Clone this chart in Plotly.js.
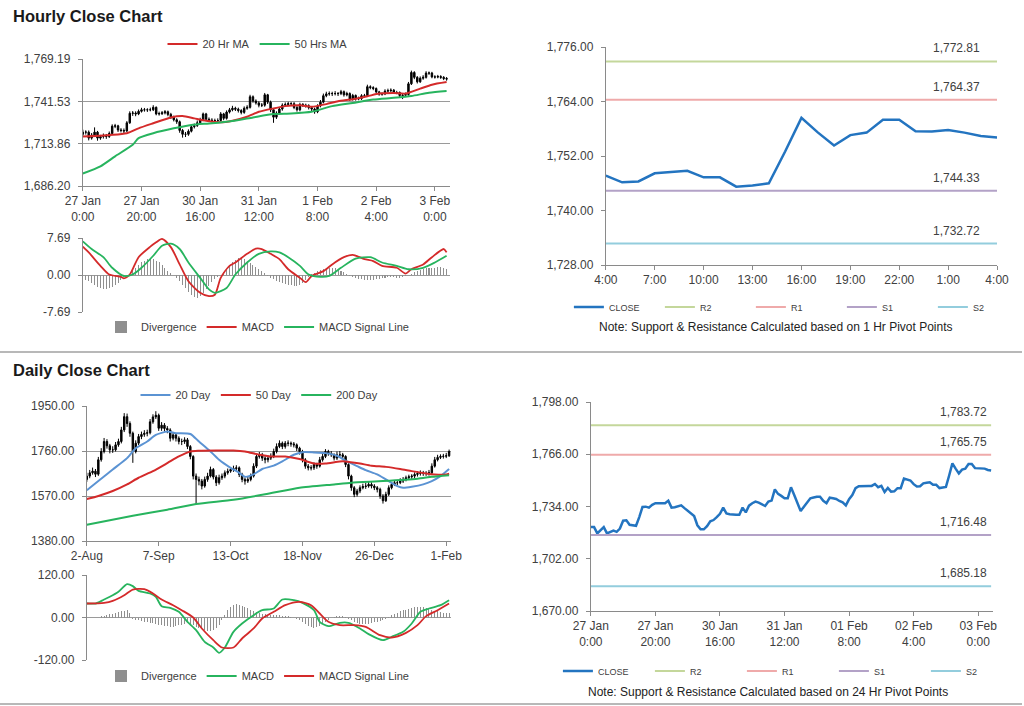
<!DOCTYPE html>
<html><head><meta charset="utf-8">
<script src="https://cdn.plot.ly/plotly-3.0.1.min.js"></script>
<style>html,body{margin:0;padding:0;background:#fff;overflow:hidden}#chart{width:1024px;height:706px}</style>
</head><body><div id="chart"></div>
<script>
// ---------- Hourly (27 Jan 0:00 .. 3 Feb) ----------
const hourTickVals = [0,20,40,60,80,100,120];
const hourTickText = ['27 Jan<br>0:00','27 Jan<br>20:00','30 Jan<br>16:00','31 Jan<br>12:00','1 Feb<br>8:00','2 Feb<br>4:00','3 Feb<br>0:00'];
const hourTickText2 = ['27 Jan<br>0:00','27 Jan<br>20:00','30 Jan<br>16:00','31 Jan<br>12:00','01 Feb<br>8:00','02 Feb<br>4:00','03 Feb<br>0:00'];
const hourPriceTicks = [1686.20,1713.86,1741.53,1769.19];
const hourClose = [1721.4,1721.4,1717.5,1719.5,1721.4,1717.5,1718.5,1719.2,1718.5,1720.5,
1725.3,1725.5,1722.8,1722.5,1722.2,1727.5,1733.7,1733.9,1733.3,1735.0,
1736.0,1736.0,1736.0,1736.0,1737.6,1733.3,1733.5,1734.0,1734.7,1733.0,
1731.2,1729.5,1728.2,1722.5,1720.0,1720.0,1722.0,1724.9,1725.7,1727.5,
1729.5,1733.3,1729.8,1729.3,1729.0,1729.0,1729.0,1733.3,1730.4,1734.5,
1736.0,1737.0,1736.4,1735.5,1734.3,1737.0,1737.6,1744.5,1741.7,1740.5,
1739.0,1739.0,1745.8,1741.0,1736.0,1731.2,1733.9,1736.5,1739.0,1739.5,
1740.0,1740.0,1737.5,1736.0,1739.4,1739.0,1738.6,1737.4,1736.5,1734.7,
1738.5,1741.0,1745.2,1746.4,1746.6,1746.6,1746.6,1746.6,1747.8,1745.8,
1746.6,1742.9,1745.4,1743.1,1743.3,1745.2,1745.2,1751.1,1750.5,1749.9,
1747.7,1746.2,1746.4,1748.2,1748.5,1748.8,1747.3,1747.3,1745.3,1745.5,
1746.0,1753.0,1760.4,1757.2,1754.3,1756.6,1757.2,1760.0,1760.0,1757.5,
1757.4,1757.7,1757.2,1756.4,1756.1];
const hourOpen = [1720.0,1721.4,1721.4,1717.5,1719.5,1721.4,1717.5,1718.5,1719.2,1718.5,
1720.5,1725.3,1725.5,1722.8,1722.5,1722.2,1727.5,1733.7,1733.9,1733.3,
1735.0,1736.0,1736.0,1736.0,1736.0,1737.6,1733.3,1733.5,1734.0,1734.7,
1733.0,1731.2,1729.5,1728.2,1722.5,1720.0,1720.0,1722.0,1724.9,1725.7,
1727.5,1729.5,1733.3,1729.8,1729.3,1729.0,1729.0,1729.0,1733.3,1730.4,
1734.5,1736.0,1737.0,1736.4,1735.5,1734.3,1737.0,1737.6,1744.5,1741.7,
1740.5,1739.0,1739.0,1745.8,1741.0,1736.0,1731.2,1733.9,1736.5,1739.0,
1739.5,1740.0,1740.0,1737.5,1736.0,1739.4,1739.0,1738.6,1737.4,1736.5,
1734.7,1738.5,1741.0,1745.2,1746.4,1746.6,1746.6,1746.6,1746.6,1747.8,
1745.8,1746.6,1742.9,1745.4,1743.1,1743.3,1745.2,1745.2,1751.1,1750.5,
1749.9,1747.7,1746.2,1746.4,1748.2,1748.5,1748.8,1747.3,1747.3,1745.3,
1745.5,1746.0,1753.0,1760.4,1757.2,1754.3,1756.6,1757.2,1760.0,1760.0,
1757.5,1757.4,1757.7,1757.2,1756.4];
const hourHigh = [1723.0,1722.6,1722.5,1720.8,1724.5,1722.2,1719.6,1720.5,1720.2,1721.8,
1726.5,1726.8,1726.2,1724.0,1723.8,1728.6,1735.0,1735.2,1735.0,1736.2,
1737.3,1737.2,1737.0,1737.4,1739.0,1738.2,1734.8,1735.2,1735.8,1735.5,
1734.0,1732.2,1730.5,1729.0,1723.5,1721.5,1723.2,1726.0,1727.0,1729.0,
1730.8,1734.2,1734.0,1731.0,1730.5,1730.2,1730.4,1734.5,1734.0,1735.6,
1737.2,1738.6,1738.0,1737.4,1736.4,1738.2,1739.0,1745.8,1745.4,1742.8,
1741.6,1740.4,1747.0,1746.4,1742.0,1737.0,1735.0,1737.8,1740.2,1740.8,
1741.2,1741.0,1741.0,1738.6,1740.6,1740.4,1740.0,1739.6,1738.4,1737.4,
1739.6,1742.4,1746.6,1747.8,1748.0,1747.8,1748.2,1747.6,1749.0,1748.6,
1747.8,1747.4,1746.4,1746.0,1744.6,1746.2,1746.4,1752.4,1752.0,1751.4,
1750.6,1748.4,1747.4,1749.4,1749.8,1750.0,1749.6,1748.4,1748.0,1746.6,
1747.2,1754.2,1761.6,1761.2,1758.0,1757.8,1758.6,1761.2,1761.0,1760.8,
1758.6,1758.8,1758.6,1758.0,1757.4];
const hourLow = [1718.6,1719.8,1716.0,1716.5,1718.5,1715.8,1716.4,1717.2,1717.0,1717.6,
1719.8,1724.0,1721.5,1721.2,1720.6,1721.5,1726.8,1732.0,1731.8,1732.5,
1734.2,1734.8,1734.6,1735.0,1735.2,1732.4,1732.2,1732.6,1733.0,1731.8,
1730.0,1728.4,1726.8,1721.0,1717.8,1718.2,1719.0,1721.2,1723.8,1724.8,
1726.5,1728.6,1728.8,1728.2,1727.8,1728.0,1727.6,1728.4,1729.2,1729.6,
1733.6,1735.0,1735.2,1734.2,1733.0,1733.4,1736.0,1736.8,1740.6,1739.4,
1737.6,1737.8,1738.0,1739.8,1734.5,1727.5,1730.0,1732.8,1735.4,1738.0,
1738.4,1738.6,1736.4,1734.8,1735.0,1737.8,1737.4,1736.2,1735.2,1733.4,
1733.8,1737.6,1740.2,1744.2,1745.2,1745.0,1745.4,1745.0,1745.6,1744.6,
1744.8,1741.8,1742.0,1742.0,1742.2,1742.4,1744.2,1744.6,1749.4,1748.8,
1746.8,1745.2,1745.2,1745.6,1747.2,1747.6,1746.4,1746.2,1744.0,1743.0,
1744.6,1745.2,1752.2,1756.0,1753.2,1753.6,1755.6,1756.4,1758.8,1756.6,
1756.4,1756.6,1756.2,1755.4,1755.0];
const hourMA20X = [0,15,19,24,30,34,38,42,47,51,56,60,65,69,74,78,83,87,92,97,101,106,110,115,119,124];
const hourMA20 = [1718.5,1720.7,1723.9,1727.2,1731.0,1731.9,1730.4,1728.9,1727.8,1728.9,1731.5,1734.7,1736.9,1738.4,1739.0,1738.0,1739.7,1741.6,1742.9,1744.8,1746.6,1747.0,1746.6,1749.8,1752.4,1754.1];
const hourMA50X = [0,6,11,17,19,24,31,37,44,51,58,65,71,78,85,92,99,106,112,118,124];
const hourMA50 = [1694.4,1699.1,1705.6,1713.1,1717.5,1720.7,1723.9,1726.1,1727.2,1728.7,1731.0,1733.2,1733.6,1734.7,1738.4,1740.5,1742.7,1743.8,1745.0,1747.2,1748.3];
const hourMacdTicks = [-7.69,0,7.69];
const hourMacdTickText = ['-7.69','0.00','7.69'];
const hourMacdX = [0,2,6,9,13,14,16,19,23,25,27,30,33,36,40,43,45,47,50,52,56,59,61,64,67,70,74,76,78,82,85,89,92,96,99,102,107,110,112,116,119,123,124];
const hourMacd = [5.9,4.7,1.9,0.1,-0.4,-0.7,0.1,3.7,5.9,6.8,7.5,5.8,2.2,-1.3,-3.7,-4.4,-4.1,-0.6,1.9,2.6,4.4,5.5,5.4,4.4,3.3,1.2,-0.6,-1.5,-0.2,0.8,2.2,3.7,4.2,3.3,2.9,1.9,1.5,0.3,1.2,2.2,3.7,5.4,4.7];
const hourSigX = [0,3,7,10,14,17,20,24,27,30,33,36,40,43,45,49,52,56,60,64,67,70,74,77,81,84,88,93,98,102,107,111,116,120,124];
const hourSig = [7.0,5.4,3.7,1.5,-0.2,0.1,1.5,4.0,6.1,6.5,5.4,2.6,-0.6,-3.0,-3.7,-2.7,0.1,2.6,4.4,4.9,4.7,3.7,1.9,0.1,-0.4,-0.2,1.5,3.4,3.7,2.6,1.9,1.2,1.5,2.6,4.0];
const hourDiv = [-0.5,-1.0,-1.3,
-1.6,-2.0,-2.4,-2.7,-3.0,-3.0,-2.8,-2.5,-2.0,-1.6,-1.0,-0.5,
-0.2,0.3,
0.8,1.4,2.0,2.6,3.0,3.4,3.6,3.3,3.0,2.6,2.0,1.4,0.8,
0.4,0.0,
-0.6,-1.2,-2.0,-2.8,-3.6,-4.2,-4.6,-4.7,-4.4,-3.8,-3.0,-2.2,-1.5,-0.9,-0.4,0.0,
0.6,1.3,2.0,2.7,3.2,3.5,3.6,3.3,2.9,2.4,2.0,1.6,1.2,0.8,0.4,
-0.3,-0.6,-0.9,-1.2,-1.4,-1.6,-1.8,-2.0,-2.1,-2.2,-2.3,-2.0,-1.6,-1.0,-0.5,
0.2,0.5,0.8,1.0,1.2,1.4,1.5,1.5,1.4,1.2,0.9,0.6,0.3,
-0.2,-0.4,-0.6,-0.8,-0.9,-1.0,-1.0,-1.1,-1.0,-0.9,-0.8,-0.7,-0.6,-0.5,-0.5,-0.4,-0.6,-0.7,-0.5,-0.3,-0.1,
0.3,0.6,0.9,1.1,1.3,1.4,1.5,1.5,1.5,1.6,1.6,1.5,1.2];

// ---------- Last 25 hours pivot chart ----------
const pivHourLabels = ['4:00','7:00','10:00','13:00','16:00','19:00','22:00','1:00','4:00'];
const pivHourTickVals = [0,3,6,9,12,15,18,21,24];
const pivHourTicks = [1728,1740,1752,1764,1776];
const pivHourClose = [1747.7,1746.2,1746.4,1748.2,1748.5,1748.75,1747.3,1747.3,1745.25,1745.5,1746.0,1753.0,1760.4,1757.2,1754.3,1756.6,1757.15,1760.0,1760.0,1757.45,1757.4,1757.7,1757.15,1756.4,1756.1];
const pivHourLevels = {R2:1772.81, R1:1764.37, S1:1744.33, S2:1732.72};
const pivDayTicks = [1670,1702,1734,1766,1798];
const pivDayLevels = {R2:1783.72, R1:1765.75, S1:1716.48, S2:1685.18};

// ---------- Daily ----------
const dayTickVals = [0,25,50,75,100,125];
const dayTickText = ['2-Aug','7-Sep','13-Oct','18-Nov','26-Dec','1-Feb'];
const dayPriceTicks = [1380,1570,1760,1950];
const dayClose = [1654,1668,1675,1662,1723,1758,1800,1782,1765,1765,
1786,1800,1849,1905,1876,1835,1758,1793,1821,1830,
1835,1837,1883,1904,1911,1856,1869,1855,1849,1814,
1828,1814,1800,1800,1807,1779,1737,1654,1640,1633,
1612,1640,1654,1682,1650,1626,1647,1654,1668,1675,
1682,1686,1689,1661,1640,1633,1640,1654,1696,1737,
1744,1730,1723,1730,1737,1758,1779,1793,1779,1793,
1793,1790,1786,1772,1758,1723,1696,1689,1689,1703,
1696,1723,1737,1758,1750,1744,1730,1744,1744,1737,
1703,1654,1605,1577,1591,1605,1610,1612,1619,1612,
1605,1598,1570,1550,1577,1605,1619,1626,1626,1633,
1640,1647,1651,1654,1661,1665,1668,1666,1665,1668,
1696,1723,1733,1737,1738,1740,1758];
const dayOpen = [1640,1654,1668,1675,1662,1723,1758,1800,1782,1765,
1765,1786,1800,1849,1905,1876,1835,1758,1793,1821,
1830,1835,1837,1883,1904,1911,1856,1869,1855,1849,
1814,1828,1814,1800,1800,1807,1779,1737,1654,1640,
1633,1612,1640,1654,1682,1650,1626,1647,1654,1668,
1675,1682,1686,1689,1661,1640,1633,1640,1654,1696,
1737,1744,1730,1723,1730,1737,1758,1779,1793,1779,
1793,1793,1790,1786,1772,1758,1723,1696,1689,1689,
1703,1696,1723,1737,1758,1750,1744,1730,1744,1744,
1737,1703,1654,1605,1577,1591,1605,1610,1612,1619,
1612,1605,1598,1570,1550,1577,1605,1619,1626,1626,
1633,1640,1647,1651,1654,1661,1665,1668,1666,1665,
1668,1696,1723,1733,1737,1738,1740];
const dayHigh = [1668,1680,1690,1684,1735,1772,1815,1810,1790,1780,
1798,1812,1862,1920,1918,1885,1842,1805,1832,1842,
1848,1850,1895,1915,1928,1918,1882,1878,1865,1856,
1840,1835,1822,1812,1818,1815,1785,1742,1665,1652,
1642,1652,1668,1694,1688,1658,1660,1665,1678,1686,
1692,1698,1700,1695,1668,1648,1652,1665,1708,1748,
1756,1752,1738,1742,1750,1770,1792,1805,1800,1802,
1805,1800,1798,1792,1778,1765,1730,1705,1700,1712,
1710,1735,1750,1768,1765,1760,1750,1758,1760,1752,
1742,1708,1660,1612,1600,1615,1622,1625,1630,1628,
1620,1612,1605,1578,1588,1615,1628,1636,1638,1645,
1650,1656,1660,1662,1670,1675,1678,1676,1675,1680,
1708,1735,1744,1746,1748,1752,1766];
const dayLow = [1630,1645,1660,1650,1655,1715,1750,1770,1750,1752,
1758,1778,1792,1840,1862,1820,1710,1750,1785,1810,
1820,1822,1830,1875,1895,1845,1845,1842,1835,1800,
1805,1800,1788,1785,1790,1768,1725,1640,1536,1615,
1598,1605,1630,1648,1640,1612,1618,1638,1645,1660,
1668,1672,1675,1650,1628,1618,1625,1632,1648,1688,
1728,1718,1708,1712,1722,1730,1750,1772,1768,1770,
1780,1778,1775,1760,1745,1712,1685,1678,1678,1680,
1685,1690,1715,1730,1740,1735,1720,1722,1735,1728,
1692,1640,1592,1565,1568,1582,1598,1600,1605,1602,
1595,1585,1558,1538,1545,1570,1598,1612,1615,1620,
1625,1632,1638,1642,1646,1652,1656,1655,1655,1656,
1662,1690,1716,1726,1728,1730,1735];
const day20X = [0,4,9,14,17,21,24,28,31,36,39,43,46,50,53,55,58,61,65,68,72,75,79,83,87,90,94,97,101,104,108,110,113,117,120,123,126];
const day20 = [1594,1633,1682,1730,1772,1800,1828,1842,1835,1832,1800,1758,1723,1689,1668,1651,1661,1684,1698,1716,1744,1755,1754,1751,1740,1719,1696,1679,1661,1640,1612,1605,1609,1619,1633,1654,1684];
const day50X = [0,4,9,14,18,23,28,32,36,39,45,51,55,60,64,69,74,79,83,88,90,95,99,104,109,113,118,121,125,126];
const day50 = [1557,1570,1591,1619,1647,1675,1709,1737,1758,1761,1762,1762,1758,1744,1737,1737,1726,1707,1707,1716,1716,1707,1698,1693,1684,1675,1665,1661,1661,1664];
const day200X = [0,16,28,38,51,62,74,86,92,103,115,120,126];
const day200 = [1449,1487,1512,1536,1554,1577,1605,1619,1626,1633,1643,1651,1658];
const dayMacdTicks = [-120,0,120];
const dayMacdTickText = ['-120.00','0.00','120.00'];
const dayMacdX = [0,3,6,8,11,14,16,18,22,24,26,29,32,35,38,41,44,46,48,51,54,58,61,65,68,72,75,79,81,84,88,91,95,98,103,106,110,113,116,119,123,126];
const dayMacd = [39.5,39.5,50.8,58.4,72.5,94,88.5,75.3,67.8,58.4,32,27.3,16,-12.2,-35.8,-68.7,-84.7,-99.8,-84.7,-40.5,-16.9,6.6,20.7,25.4,50.8,48.9,41.4,20.7,-12.2,-24.5,-15,-15,-31,-47,-64,-54.6,-40.5,-16.9,16,25.4,34.8,49];
const daySigX = [0,6,9,13,16,20,23,26,30,33,37,40,44,47,51,54,58,61,65,69,74,78,81,84,88,93,97,102,106,111,115,118,122,126];
const daySig = [39.5,41.4,47,63,79,80,67.8,50.8,34.8,20.7,0,-31,-64,-84.7,-84.7,-59.3,-31,-2.8,16,34.8,44.2,34.8,11.3,-12.2,-21.6,-21.6,-26.4,-50,-56.5,-43.3,-21.6,3.8,20.7,39.5];
const dayDiv = [-1,-2,-2,-1,0,
3,5,7,9,11,13,15,17,19,22,12,
-3,-6,-8,-10,-12,-14,-15,-16,-18,-20,-22,-24,-25,-26,-26,-25,-22,-20,-18,-16,-18,-22,
-26,-30,-33,-36,-38,-38,-36,-30,-20,-8,
8,20,30,35,37,36,33,30,26,22,18,15,12,10,9,
8,7,7,6,6,5,4,3,2,0,-3,-8,-13,
-18,-24,-28,-30,-28,-24,-18,-12,-6,-2,2,
4,5,3,1,-3,-8,
-12,-15,-17,-18,-18,-17,-16,-14,-12,-10,-7,-3,
2,6,10,14,17,20,22,25,27,29,30,30,29,27,25,22,19,17,15,14,13,13];

// ---------- styles ----------
const RED='#d42a2a', GREEN='#27b45e', BLUE20='#5b93d3', CLOSEBLUE='#2374c0', GRAY='#8f8f8f';
const LVL = {R2:'#c4d79b', R1:'#efaaaa', S1:'#b3a2c7', S2:'#93cddd'};
const FONT = 'Liberation Sans, Arial, sans-serif';
const TXT = '#404040';
const idx = n => Array.from({length:n}, (_, i) => i);
const fmt = v => v.toLocaleString('en-US',{minimumFractionDigits:2, maximumFractionDigits:2});

const traces = [];
// Hourly price
traces.push({type:'candlestick', x:idx(hourClose.length), open:hourOpen, high:hourHigh, low:hourLow, close:hourClose,
  xaxis:'x', yaxis:'y', showlegend:false, whiskerwidth:0,
  increasing:{line:{color:'#000',width:1}, fillcolor:'#000'}, decreasing:{line:{color:'#000',width:1}, fillcolor:'#000'}});
traces.push({type:'scatter', mode:'lines', name:'20 Hr MA', x:hourMA20X, y:hourMA20, xaxis:'x', yaxis:'y', line:{color:RED,width:2,shape:'spline',smoothing:0.6}, legend:'legend'});
traces.push({type:'scatter', mode:'lines', name:'50 Hrs MA', x:hourMA50X, y:hourMA50, xaxis:'x', yaxis:'y', line:{color:GREEN,width:2,shape:'spline',smoothing:0.6}, legend:'legend'});
// Hourly MACD
traces.push({type:'bar', name:'Divergence', x:idx(hourDiv.length), y:hourDiv, xaxis:'x2', yaxis:'y2', marker:{color:GRAY}, width:0.35, legend:'legend2'});
traces.push({type:'scatter', mode:'lines', name:'MACD', x:hourMacdX, y:hourMacd, xaxis:'x2', yaxis:'y2', line:{color:RED,width:1.8,shape:'spline',smoothing:0.7}, legend:'legend2'});
traces.push({type:'scatter', mode:'lines', name:'MACD Signal Line', x:hourSigX, y:hourSig, xaxis:'x2', yaxis:'y2', line:{color:GREEN,width:1.8,shape:'spline',smoothing:0.7}, legend:'legend2'});
// Hourly pivot
traces.push({type:'scatter', mode:'lines', name:'CLOSE', x:idx(pivHourClose.length), y:pivHourClose, xaxis:'x3', yaxis:'y3', line:{color:CLOSEBLUE,width:2.5}, legend:'legend3'});
['R2','R1','S1','S2'].forEach(k => traces.push({type:'scatter', mode:'lines', name:k, x:[0,pivHourClose.length-1], y:[pivHourLevels[k],pivHourLevels[k]], xaxis:'x3', yaxis:'y3', line:{color:LVL[k],width:2}, legend:'legend3'}));
// Daily price
traces.push({type:'candlestick', x:idx(dayClose.length), open:dayOpen, high:dayHigh, low:dayLow, close:dayClose,
  xaxis:'x4', yaxis:'y4', showlegend:false, whiskerwidth:0,
  increasing:{line:{color:'#000',width:1}, fillcolor:'#000'}, decreasing:{line:{color:'#000',width:1}, fillcolor:'#000'}});
traces.push({type:'scatter', mode:'lines', name:'20 Day', x:day20X, y:day20, xaxis:'x4', yaxis:'y4', line:{color:BLUE20,width:2,shape:'spline',smoothing:0.6}, legend:'legend4'});
traces.push({type:'scatter', mode:'lines', name:'50 Day', x:day50X, y:day50, xaxis:'x4', yaxis:'y4', line:{color:RED,width:2,shape:'spline',smoothing:0.6}, legend:'legend4'});
traces.push({type:'scatter', mode:'lines', name:'200 Day', x:day200X, y:day200, xaxis:'x4', yaxis:'y4', line:{color:GREEN,width:2,shape:'spline',smoothing:0.6}, legend:'legend4'});
// Daily MACD
traces.push({type:'bar', name:'Divergence', x:idx(dayDiv.length), y:dayDiv, xaxis:'x5', yaxis:'y5', marker:{color:GRAY}, width:0.35, legend:'legend5'});
traces.push({type:'scatter', mode:'lines', name:'MACD', x:dayMacdX, y:dayMacd, xaxis:'x5', yaxis:'y5', line:{color:GREEN,width:1.8,shape:'spline',smoothing:0.7}, legend:'legend5'});
traces.push({type:'scatter', mode:'lines', name:'MACD Signal Line', x:daySigX, y:daySig, xaxis:'x5', yaxis:'y5', line:{color:RED,width:1.8,shape:'spline',smoothing:0.7}, legend:'legend5'});
// Daily pivot (hourly closes over the week)
traces.push({type:'scatter', mode:'lines', name:'CLOSE', x:idx(hourClose.length), y:hourClose, xaxis:'x6', yaxis:'y6', line:{color:CLOSEBLUE,width:2.5}, legend:'legend6'});
['R2','R1','S1','S2'].forEach(k => traces.push({type:'scatter', mode:'lines', name:k, x:[0,hourClose.length-1], y:[pivDayLevels[k],pivDayLevels[k]], xaxis:'x6', yaxis:'y6', line:{color:LVL[k],width:2}, legend:'legend6'}));

// ---------- layout helpers (pixel -> paper) ----------
const W=1024, H=706;
const px = v => v/W, py = v => 1 - v/H;
const tickFont = {family:FONT, size:12, color:TXT};
function xa(x0,x1,anchor,range,tv,tt,opts={}) {
  return Object.assign({domain:[px(x0),px(x1)], anchor:anchor, range:range, tickmode:'array', tickvals:tv, ticktext:tt,
    showgrid:false, zeroline:false, showline:true, linecolor:'#8a8a8a', linewidth:1, ticks:'outside', ticklen:4, tickcolor:'#8a8a8a',
    tickfont:tickFont, fixedrange:true, rangeslider:{visible:false}}, opts);
}
function ya(y0,y1,anchor,range,tv,tt,grid,opts={}) {
  return Object.assign({domain:[py(y1),py(y0)], anchor:anchor, range:range, tickmode:'array', tickvals:tv, ticktext:tt,
    showgrid:grid, gridcolor:'#9a9a9a', gridwidth:1, zeroline:false, showline:true, linecolor:'#8a8a8a', linewidth:1,
    ticks:'outside', ticklen:4, tickcolor:'#8a8a8a', tickfont:tickFont, ticklabelstandoff:5, fixedrange:true}, opts);
}
const legFont = {family:FONT, size:11, color:TXT};
function leg(x, cy, anchor, opts={}) {
  return Object.assign({orientation:'h', x:px(x), y:py(cy), xanchor:anchor, yanchor:'middle', font:legFont,
    bgcolor:'rgba(0,0,0,0)', itemwidth:30, tracegroupgap:0, itemclick:false, itemdoubleclick:false}, opts);
}

const layout = {
  width:W, height:H, margin:{l:0,r:0,t:0,b:0}, paper_bgcolor:'#fff', plot_bgcolor:'#fff',
  hovermode:false, bargap:0, font:{family:FONT, color:TXT},
  xaxis: xa(83,451,'y',[0,125.2],hourTickVals,hourTickText),
  yaxis: ya(59,186,'x',[1686.20,1769.19],hourPriceTicks,hourPriceTicks.map(fmt),true),
  xaxis2: xa(83,451,'y2',[0,125.2],hourTickVals,hourTickVals.map(()=>''),{showline:false,ticks:''}),
  yaxis2: ya(238,312,'x2',[-7.69,7.69],hourMacdTicks,hourMacdTickText,true),
  xaxis3: xa(607,999,'y3',[0,24],pivHourTickVals,pivHourLabels),
  yaxis3: ya(47,265,'x3',[1728,1776],pivHourTicks,pivHourTicks.map(fmt),false),
  xaxis4: xa(87,452,'y4',[0,126.7],dayTickVals,dayTickText),
  yaxis4: ya(406,541,'x4',[1380,1950],dayPriceTicks,dayPriceTicks.map(v=>v.toFixed(2)),true),
  xaxis5: xa(87,452,'y5',[0,126.7],dayTickVals,dayTickVals.map(()=>''),{showline:false,ticks:''}),
  yaxis5: ya(575,660,'x5',[-120,120],dayMacdTicks,dayMacdTickText,true),
  xaxis6: xa(592,995,'y6',[0,124.6],hourTickVals,hourTickText2),
  yaxis6: ya(402,611,'x6',[1670,1798],pivDayTicks,pivDayTicks.map(fmt),false),
  legend: leg(258,44,'center'),
  legend2: leg(258,327,'center'),
  legend3: leg(570,307,'left',{font:{family:FONT,size:9,color:TXT}, entrywidth:46, entrywidthmode:'pixels'}),
  legend4: leg(260,395,'center'),
  legend5: leg(258,676,'center'),
  legend6: leg(559,671,'left',{font:{family:FONT,size:9,color:TXT}, entrywidth:47, entrywidthmode:'pixels'}),
  shapes: [
    {type:'line', xref:'paper', yref:'paper', x0:0, x1:1, y0:py(352), y1:py(352), line:{color:'#a0a0a0', width:1.5}},
    {type:'line', xref:'paper', yref:'paper', x0:0, x1:1, y0:py(704), y1:py(704), line:{color:'#a0a0a0', width:1.5}}
  ],
  annotations: [
    {xref:'paper', yref:'paper', x:px(11), y:py(16), xanchor:'left', yanchor:'middle', showarrow:false, text:'<b>Hourly Close Chart</b>', font:{family:FONT, size:16.5, color:'#1a1a1a'}},
    {xref:'paper', yref:'paper', x:px(11), y:py(370), xanchor:'left', yanchor:'middle', showarrow:false, text:'<b>Daily Close Chart</b>', font:{family:FONT, size:16.5, color:'#1a1a1a'}},
    {xref:'paper', yref:'paper', x:px(778), y:py(327), xanchor:'center', yanchor:'middle', showarrow:false, text:'Note: Support & Resistance Calculated based on 1 Hr Pivot Points', font:{family:FONT, size:12, color:'#222'}},
    {xref:'paper', yref:'paper', x:px(770), y:py(692), xanchor:'center', yanchor:'middle', showarrow:false, text:'Note: Support & Resistance Calculated based on 24 Hr Pivot Points', font:{family:FONT, size:12, color:'#222'}}
  ]
};
['R2','R1','S1','S2'].forEach(k => {
  layout.annotations.push({xref:'x3', yref:'y3', x:21.5, y:pivHourLevels[k], yanchor:'bottom', yshift:4, showarrow:false, text:fmt(pivHourLevels[k]), font:{family:FONT,size:12,color:TXT}});
  layout.annotations.push({xref:'x6', yref:'y6', x:115.3, y:pivDayLevels[k], yanchor:'bottom', yshift:4, showarrow:false, text:fmt(pivDayLevels[k]), font:{family:FONT,size:12,color:TXT}});
});

Plotly.newPlot('chart', traces, layout, {displayModeBar:false, staticPlot:true});
</script>
</body></html>
